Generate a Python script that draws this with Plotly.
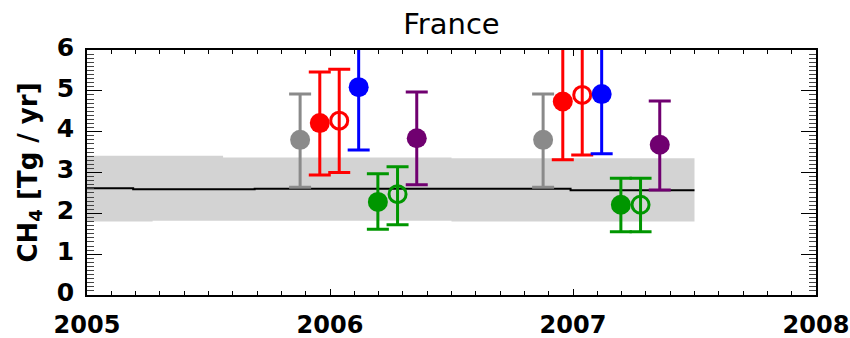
import plotly.graph_objects as go

# ---- background envelope (grey band) and mean emission line ----
band_t = [2005.0, 2005.27, 2005.56, 2006.5, 2007.5]
band_hi = [3.41, 3.41, 3.37, 3.35, 3.35]
band_lo = [1.80, 1.82, 1.82, 1.80, 1.80]

mean_t = [2005.0, 2005.19, 2005.69, 2006.99, 2007.5]
mean_v = [2.615, 2.59, 2.60, 2.565, 2.565]

# ---- annual estimates (two years, seven estimates each) ----
grey_t = [2005.877, 2006.877]
grey_v = [3.80, 3.80]
grey_hi = [1.12, 1.12]
grey_lo = [1.16, 1.16]

red_t = [2005.958, 2006.958]
red_v = [4.21, 4.74]
red_hi = [1.25, 1.43]
red_lo = [1.27, 1.43]

redo_t = [2006.038, 2007.038]
redo_v = [4.27, 4.90]
redo_hi = [1.26, 1.47]
redo_lo = [1.27, 1.47]

blue_t = [2006.118, 2007.118]
blue_v = [5.09, 4.92]
blue_hi = [1.54, 1.46]
blue_lo = [1.54, 1.46]

green_t = [2006.197, 2007.197]
green_v = [2.28, 2.21]
green_hi = [0.69, 0.65]
green_lo = [0.67, 0.66]

greeno_t = [2006.278, 2007.278]
greeno_v = [2.47, 2.21]
greeno_hi = [0.67, 0.65]
greeno_lo = [0.75, 0.66]

purple_t = [2006.357, 2007.357]
purple_v = [3.84, 3.68]
purple_hi = [1.13, 1.07]
purple_lo = [1.14, 1.11]

x_ticks = [2005, 2006, 2007, 2008]
y_ticks = [0, 1, 2, 3, 4, 5, 6]

GREY = "#8a8a8a"
RED = "#ff0000"
BLUE = "#0000ff"
GREEN = "#009600"
PURPLE = "#700070"
BAND = "#d3d3d3"

fig = go.Figure()

# envelope
fig.add_trace(go.Scatter(x=band_t, y=band_lo, mode="lines", line=dict(width=0, shape="hv"),
                         hoverinfo="skip", showlegend=False))
fig.add_trace(go.Scatter(x=band_t, y=band_hi, mode="lines", line=dict(width=0, shape="hv"),
                         fill="tonexty", fillcolor=BAND, hoverinfo="skip", showlegend=False))
# mean line
fig.add_trace(go.Scatter(x=mean_t, y=mean_v, mode="lines",
                         line=dict(color="black", width=2, shape="hv"), showlegend=False))


def add_est(t, v, hi, lo, color, filled):
    if filled:
        marker = dict(symbol="circle", size=20, color=color, line=dict(width=0))
    else:
        marker = dict(symbol="circle-open", size=17, color=color, line=dict(width=3, color=color))
    fig.add_trace(go.Scatter(
        x=t, y=v, mode="markers", marker=marker, showlegend=False,
        error_y=dict(type="data", array=hi, arrayminus=lo, symmetric=False,
                     color=color, thickness=3, width=11),
    ))


add_est(grey_t, grey_v, grey_hi, grey_lo, GREY, True)
add_est(red_t, red_v, red_hi, red_lo, RED, True)
add_est(redo_t, redo_v, redo_hi, redo_lo, RED, False)
add_est(blue_t, blue_v, blue_hi, blue_lo, BLUE, True)
add_est(green_t, green_v, green_hi, green_lo, GREEN, True)
add_est(greeno_t, greeno_v, greeno_hi, greeno_lo, GREEN, False)
add_est(purple_t, purple_v, purple_hi, purple_lo, PURPLE, True)

# empty trace so the top/right tick axes are rendered
fig.add_trace(go.Scatter(x=[], y=[], xaxis="x2", yaxis="y2", showlegend=False, hoverinfo="skip"))

x_font = dict(family="DejaVu Sans", size=24, color="black", weight="bold")
y_font = dict(family="DejaVu Sans", size=25, color="black", weight="bold")

x_minor = dict(dtick=0.1, tick0=2005, ticks="inside", ticklen=4, tickcolor="black", tickwidth=1)
y_minor = dict(dtick=0.1, tick0=0, ticks="inside", ticklen=7, tickcolor="#444444", tickwidth=1)

fig.update_layout(
    width=850, height=338,
    margin=dict(l=87, r=34, t=50, b=43),
    paper_bgcolor="white", plot_bgcolor="white",
    title=dict(text="France", x=0.5, xref="paper", xanchor="center",
               y=1 - 24 / 338, yref="container", yanchor="middle",
               font=dict(family="DejaVu Sans", size=29, color="black")),
    xaxis=dict(
        range=[2005, 2008], tickvals=x_ticks, ticktext=[str(v) for v in x_ticks],
        ticks="inside", ticklen=6, tickwidth=1, tickcolor="black", minor=x_minor,
        showline=True, linecolor="black", linewidth=1.5,
        showgrid=False, zeroline=False, tickfont=x_font, ticklabelstandoff=7,
        ticklabeloverflow="allow", automargin=False,
    ),
    xaxis2=dict(
        range=[2005, 2008], tickvals=x_ticks, overlaying="x", side="top", anchor="y2",
        ticks="inside", ticklen=6, tickwidth=1, tickcolor="black", minor=x_minor,
        showline=True, linecolor="black", linewidth=1.5, showticklabels=False,
        showgrid=False, zeroline=False, automargin=False,
    ),
    yaxis=dict(
        range=[0, 6], tickvals=y_ticks, ticktext=[str(v) for v in y_ticks],
        ticks="inside", ticklen=15, tickwidth=1, tickcolor="black", minor=y_minor,
        showline=True, linecolor="black", linewidth=1.5,
        showgrid=False, zeroline=False, tickfont=y_font, ticklabelstandoff=6,
        ticklabelshift=-3, automargin=False,
        title=dict(text="CH<sub>4</sub> [Tg / yr]", standoff=12,
                   font=dict(family="DejaVu Sans", size=26, color="black", weight="bold")),
    ),
    yaxis2=dict(
        range=[0, 6], tickvals=y_ticks, overlaying="y", side="right", anchor="x2",
        ticks="inside", ticklen=15, tickwidth=1, tickcolor="black", minor=y_minor,
        showline=True, linecolor="black", linewidth=1.5, showticklabels=False,
        showgrid=False, zeroline=False, automargin=False,
    ),
)

fig.write_html("out.html")
